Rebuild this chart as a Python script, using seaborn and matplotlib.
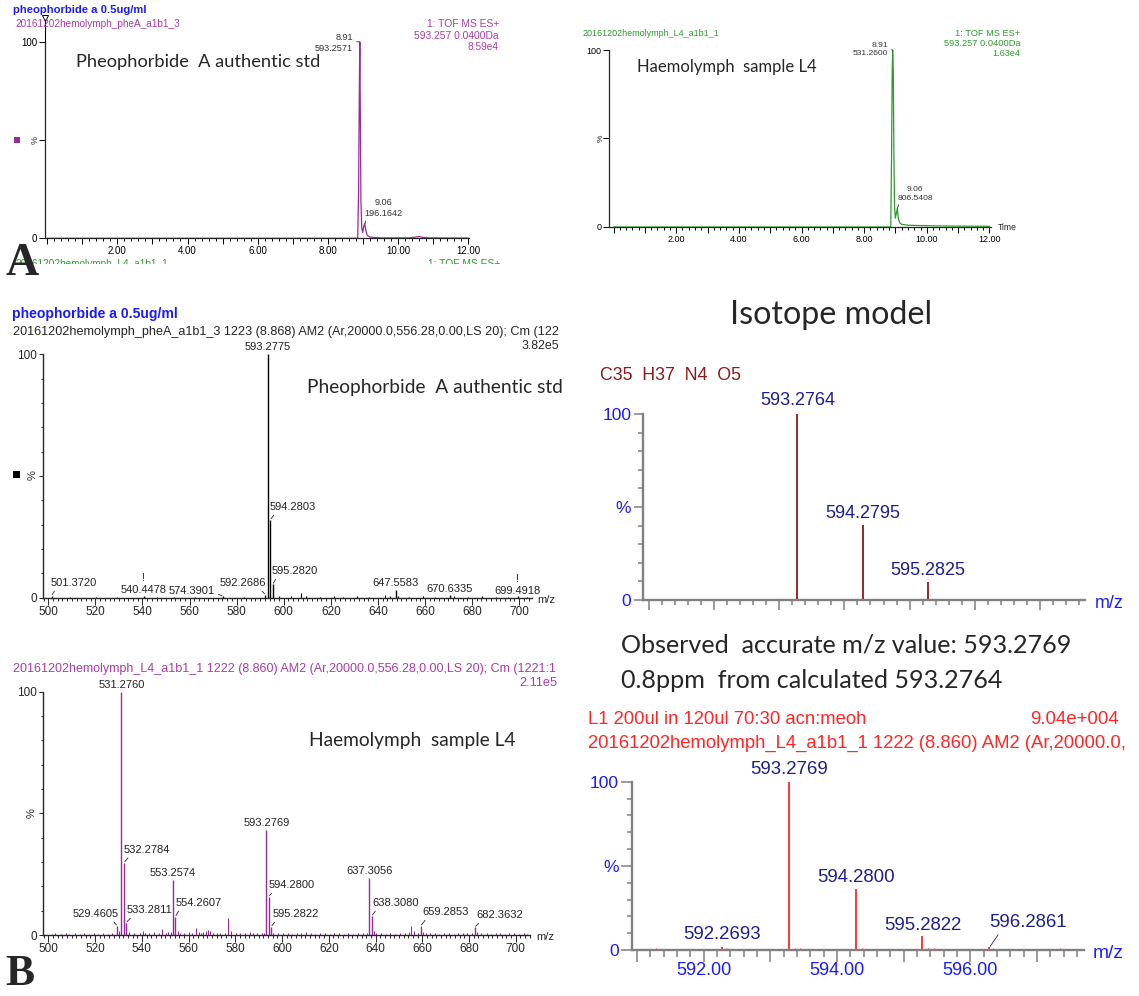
import matplotlib
matplotlib.use("Agg")
import numpy as np
import pandas as pd
import seaborn as sns
import matplotlib.pyplot as plt
from matplotlib.lines import Line2D
from matplotlib.patches import Rectangle
from matplotlib.ticker import MultipleLocator, FuncFormatter

# ---- A: extracted ion chromatograms (time in min, % of max) ----
std_time = [0.0, 8.85, 8.875, 8.895, 8.91, 8.925, 8.94, 8.965, 8.99, 9.02, 9.05, 9.08, 9.12, 9.2, 9.5,
            10.3, 10.5, 10.6, 10.7, 10.9, 12.0]
std_xic = [0.0, 0.0, 25, 75, 100, 60, 20, 5, 3, 6, 7.5, 4, 1.5, 0.6, 0.2, 0.2, 0.6, 0.9, 0.5, 0.2, 0.1]
l4_time = [0.0, 8.85, 8.875, 8.895, 8.91, 8.93, 8.95, 8.97, 8.995, 9.03, 9.06, 9.09, 9.13, 9.2, 9.4,
           9.8, 10.3, 11.0, 12.0]
l4_xic = [0.0, 0.0, 40, 85, 100, 88, 40, 12, 5, 8, 10.6, 5, 2.5, 1.5, 1.0, 0.8, 0.6, 0.5, 0.4]
std_apex_time = [8.91, 9.06]
std_apex_int = [100, 7.5]
std_apex_mz = ["593.2571", "196.1642"]
l4_apex_time = [8.91, 9.06]
l4_apex_int = [100, 10.6]
l4_apex_mz = ["531.2600", "806.5408"]

# ---- B: pheophorbide a standard spectrum ----
std_mz = [501.3720, 540.4478, 574.3901, 592.2686, 593.2775, 594.2803, 595.2820, 647.5583, 670.6335, 699.4918]
std_int = [0.8, 0.5, 0.6, 1.2, 100, 32.0, 5.5, 3.2, 1.0, 0.5]
std_flag = [False, True, False, False, False, False, False, False, False, True]
std_minor_mz = [509.3, 520.4, 529.2, 546.3, 553.3, 562.4, 583.3, 598.2, 603.3, 607.5, 609.3, 615.4, 621.3,
                625.4, 631.3, 636.4, 642.9, 645.2, 648.6, 653.4, 659.3, 664.4, 672.3, 678.4, 684.3, 690.4,
                695.3, 703.2]
std_minor_int = [0.3, 0.3, 0.4, 0.3, 0.4, 0.3, 0.4, 0.6, 0.5, 2.0, 0.6, 0.4, 0.5, 0.4, 0.5, 0.4, 1.0, 0.6,
                 0.8, 0.4, 0.5, 0.4, 0.8, 0.4, 0.5, 0.4, 0.4, 0.3]

# ---- B: haemolymph L4 spectrum ----
l4_mz = [529.4605, 531.2760, 532.2784, 533.2811, 553.2574, 554.2607, 593.2769, 594.2800, 595.2822,
         637.3056, 638.3080, 659.2853, 682.3632]
l4_int = [3.7, 100, 29.7, 5.1, 22.6, 7.5, 43.2, 15.8, 3.4, 23.3, 7.8, 3.7, 3.2]
l4_minor_mz = [501.5, 503.0, 505.2, 507.4, 509.0, 511.3, 513.6, 515.1, 517.5, 519.6, 521.2, 523.4, 525.5,
               527.3, 530.3, 534.3, 536.5, 539.1, 540.3, 541.2, 543.2, 545.3, 547.3, 548.8, 550.3, 551.2,
               552.3, 555.3, 556.4, 558.2, 560.3, 561.4, 563.2, 564.3, 565.4, 566.3, 567.6, 568.5, 569.3,
               570.4, 572.3, 573.3, 575.4, 577.0, 578.0, 580.3, 582.2, 584.3, 586.3, 587.4, 589.3, 591.3,
               592.3, 596.3, 598.2, 600.3, 602.4, 604.3, 606.4, 608.3, 610.3, 612.4, 614.2, 616.3, 618.5,
               620.3, 622.4, 624.3, 626.5, 628.3, 630.4, 632.3, 634.5, 636.3, 639.3, 640.4, 642.3, 644.5,
               646.3, 648.4, 650.3, 652.5, 654.2, 655.3, 656.3, 658.3, 660.3, 661.4, 663.3, 665.5, 667.3,
               669.4, 671.3, 673.5, 675.3, 677.4, 679.3, 681.3, 683.4, 685.3, 687.5, 689.3, 691.4, 693.3,
               695.5, 697.3, 699.4, 701.3, 703.4, 705.0]
l4_minor_int = [0.6, 0.8, 0.5, 0.9, 0.6, 0.7, 0.5, 0.8, 0.6, 0.9, 0.5, 0.7, 0.6, 0.8, 1.8, 1.2, 0.7, 0.9,
                1.5, 1.0, 0.8, 1.3, 1.0, 2.6, 1.0, 1.4, 1.2, 1.6, 1.0, 0.8, 1.1, 0.9, 3.0, 1.2, 0.9, 1.3,
                1.8, 2.0, 1.6, 1.0, 0.9, 0.7, 0.8, 6.8, 1.6, 0.8, 0.9, 0.7, 1.3, 0.8, 0.9, 0.8, 1.0, 0.9,
                0.8, 0.7, 0.9, 0.6, 0.8, 0.7, 1.2, 0.8, 0.6, 0.7, 0.8, 0.6, 0.7, 0.9, 0.6, 0.8, 0.6, 0.7,
                0.8, 0.9, 1.5, 0.9, 0.7, 0.6, 0.8, 0.6, 0.7, 0.8, 1.2, 3.7, 1.5, 0.9, 1.4, 0.9, 0.7, 0.8,
                0.6, 0.7, 0.8, 0.6, 0.9, 0.7, 0.8, 0.9, 1.3, 0.7, 0.8, 0.6, 0.7, 0.8, 0.6, 0.7, 0.8, 0.6,
                0.7, 0.5]

# ---- B: isotope model C35H37N4O5 ----
iso_mz = [593.2764, 594.2795, 595.2825]
iso_int = [100, 40.3, 9.5]

# ---- B: observed cluster, zoomed ----
obs_mz = [592.2693, 593.2769, 594.2800, 595.2822, 596.2861]
obs_int = [1.5, 100, 36.0, 8.3, 1.5]
obs_noise_mz = [591.12, 591.20, 591.28, 591.34, 591.42, 591.49, 591.57, 591.64, 591.72, 591.79, 591.87,
                591.94, 592.09, 592.34, 592.44, 592.54, 592.69, 592.77, 592.84, 592.94, 593.02, 593.37,
                593.44, 593.52, 593.67, 593.79, 593.94, 594.02, 594.09, 594.17, 594.37, 594.47, 594.69,
                594.79, 594.91, 595.04, 595.14, 595.36, 595.46, 595.54, 595.64, 595.74, 595.84, 595.94,
                596.04, 596.14, 596.34, 596.41, 596.49, 596.56, 596.69, 596.81, 596.94, 597.05, 597.15,
                597.25, 597.35, 597.45, 597.55]
obs_noise_int = [0.6, 0.7, 1.3, 0.6, 0.8, 0.6, 0.7, 0.6, 0.8, 0.6, 0.7, 0.6, 0.8, 0.9, 0.7, 0.6, 0.8,
                 0.6, 0.7, 0.6, 0.7, 1.4, 0.9, 0.7, 0.6, 0.7, 0.6, 0.8, 0.6, 0.7, 1.0, 0.7, 0.6, 0.7,
                 0.6, 0.8, 0.6, 1.2, 0.9, 0.7, 0.6, 0.7, 0.6, 0.7, 0.6, 0.8, 0.9, 0.7, 0.6, 0.7, 0.6,
                 0.7, 0.6, 0.8, 0.6, 0.7, 0.9, 0.6, 0.7]

BLUE, PURPLE, TRACE = "#1a1aff", "#a83ca8", "#9a2a9a"
GREEN, DARKRED, NAVY, RED, GRAY = "#2e9a2e", "#8b1a1a", "#1f1f8a", "#ff2626", "#808080"
CAL = ["Lato", "DejaVu Sans"]

sns.set_style("ticks")
plt.rcParams["font.family"] = ["Liberation Sans", "DejaVu Sans"]

W, H = 1139, 996
fig = plt.figure(figsize=(W / 100, H / 100), dpi=100)
renderer = fig.canvas.get_renderer()


def put(x, y, s, size=8, width=None, **kw):
    # text placed in pixel coordinates of the figure, optionally fitted to a width
    kw.setdefault("va", "center")
    t = fig.text(x / W, 1 - y / H, s, fontsize=size, **kw)
    if width:
        t.set_fontsize(size * width / t.get_window_extent(renderer).width)
    return t


def axes_at(left, right, top, bottom):
    ax = fig.add_axes([left / W, 1 - bottom / H, (right - left) / W, (bottom - top) / H])
    ax.patch.set_alpha(0)
    sns.despine(ax=ax)
    return ax


def tag(ax, mz, h, text, lay, size, color):
    dx, dy, ha, rel = lay
    kw = {}
    if rel is not None:
        kw["arrowprops"] = dict(arrowstyle="-", lw=0.6, color=color, shrinkA=0, shrinkB=1, relpos=rel)
    ax.annotate(text, (mz, h), xytext=(dx, dy), textcoords="offset pixels", ha=ha, va="bottom",
                fontsize=size, color=color, annotation_clip=False, linespacing=1.3, **kw)


def chrom_style(ax, xlim, size):
    ax.set_xlim(*xlim)
    ax.set_ylim(0, 100)
    ax.xaxis.set_major_locator(MultipleLocator(1))
    ax.xaxis.set_minor_locator(MultipleLocator(0.2))
    ax.xaxis.set_major_formatter(FuncFormatter(lambda v, p: f"{v:.2f}" if v > 0.5 and round(v) % 2 == 0 else ""))
    ax.set_yticks([0, 50, 100], ["0", "", "100"])
    ax.tick_params(which="both", direction="out", width=0.7, labelsize=size, pad=1.5, colors="black")
    ax.tick_params(which="major", length=4)
    ax.tick_params(which="minor", length=2.2)
    for s in ("left", "bottom"):
        ax.spines[s].set_linewidth(0.9)
    ax.set_xlabel("")
    ax.set_ylabel("")


def ms_style(ax, xlim):
    ax.set_xlim(*xlim)
    ax.set_ylim(0, 100)
    ax.set_yticks([0, 50, 100], ["0", "", "100"])
    ax.yaxis.set_minor_locator(MultipleLocator(10))
    ax.xaxis.set_major_locator(MultipleLocator(20))
    ax.xaxis.set_minor_locator(MultipleLocator(2))
    ax.xaxis.set_major_formatter(FuncFormatter(lambda v, p: f"{v:.0f}"))
    ax.tick_params(which="both", direction="out", width=0.7, labelsize=8.5, pad=1)
    ax.tick_params(axis="x", which="major", length=5)
    ax.tick_params(axis="x", which="minor", length=2.5)
    ax.tick_params(axis="y", which="major", length=3)
    ax.tick_params(axis="y", which="minor", length=1.8)
    for s in ("left", "bottom"):
        ax.spines[s].set_linewidth(1.0)


def model_style(ax, xlim, maj, mino, ylen, labelled):
    ax.set_xlim(*xlim)
    ax.set_ylim(0, 100)
    ax.set_yticks([0, 50, 100], ["0", "%", "100"])
    ax.yaxis.set_minor_locator(MultipleLocator(10))
    ax.xaxis.set_major_locator(MultipleLocator(1))
    ax.xaxis.set_minor_locator(MultipleLocator(0.2))
    if labelled:
        ax.xaxis.set_major_formatter(FuncFormatter(lambda v, p: f"{v:.2f}" if round(v) % 2 == 0 else ""))
    else:
        ax.set_xticklabels([])
    ax.tick_params(which="both", direction="out", width=1.1, color=GRAY, labelcolor=BLUE)
    ax.tick_params(axis="y", which="major", length=ylen, labelsize=12.5, pad=1.6)
    ax.tick_params(axis="y", which="minor", length=3.8)
    ax.tick_params(axis="x", which="major", length=maj, labelsize=13, pad=0.5)
    ax.tick_params(axis="x", which="minor", length=mino)
    for s in ("left", "bottom"):
        ax.spines[s].set_linewidth(1.7)
        ax.spines[s].set_color(GRAY)


# ================= A, left: standard XIC =================
ax = axes_at(45, 469, 41.7, 238.3)
sns.lineplot(x=std_time, y=std_xic, ax=ax, color=TRACE, lw=0.9, zorder=3)
chrom_style(ax, (-0.06, 12.02), 7)
for t, h, m, lay in zip(std_apex_time, std_apex_int, std_apex_mz,
                        [(-6.6, -1.3, "right", (1, 0.55)), (18.3, 6, "center", (0.05, 0))]):
    dx, dy, ha, rel = lay
    ax.annotate(f"{t:.2f}\n{m}", (t, h), xytext=(dx, dy), textcoords="offset pixels", ha=ha,
                va="center" if ha == "right" else "bottom", fontsize=6.6, color="#333333",
                linespacing=1.25, annotation_clip=False,
                arrowprops=dict(arrowstyle="-", lw=0.6, color="#333333", shrinkA=0, shrinkB=0, relpos=rel))
put(35, 140, "%", size=6.5, rotation=90, ha="center")
fig.add_artist(Rectangle((14 / W, 1 - 142.7 / H), 5.5 / W, 5.5 / H, transform=fig.transFigure,
                         color=TRACE, lw=0))
fig.add_artist(Line2D([45 / W, 45 / W], [1 - 21 / H, 1 - 42 / H], transform=fig.transFigure,
                      color="black", lw=0.8))
fig.add_artist(Line2D([45 / W], [1 - 18.5 / H], transform=fig.transFigure, marker="v", ms=5,
                      mfc="none", mec="black", mew=0.7))
put(13.3, 10, "pheophorbide a 0.5ug/ml", width=134.4, weight="bold", color=BLUE)
put(15, 24, "20161202hemolymph_pheA_a1b1_3", width=166, color=PURPLE)
put(499, 24, "1: TOF MS ES+", width=72, color=PURPLE, ha="right")
put(499, 36, "593.257 0.0400Da", width=84, color=PURPLE, ha="right")
put(499, 47, "8.59e4", width=31, color=PURPLE, ha="right")
put(76, 61.7, "Pheophorbide  A authentic std", width=245, family=CAL)

# cut-off header of the next trace and panel letter
put(15, 264, "20161202hemolymph_L4_a1b1_1", width=152, color=GREEN)
put(500, 264, "1: TOF MS ES+", width=72, color=GREEN, ha="right")
fig.add_artist(Rectangle((0, 1 - 282 / H), 560 / W, 17.5 / H, transform=fig.transFigure,
                         color="white", lw=0, zorder=4))
put(5, 275, "A", width=33, family="Liberation Serif", weight="bold", va="baseline", zorder=5)

# ================= A, right: haemolymph XIC =================
ax = axes_at(609.2, 991, 50, 227)
sns.lineplot(x=l4_time, y=l4_xic, ax=ax, color=GREEN, lw=0.9, zorder=3)
chrom_style(ax, (-0.14, 12.05), 6.5)
for t, h, m, lay in zip(l4_apex_time, l4_apex_int, l4_apex_mz,
                        [(-4.4, 0.5, "right", (1, 0.55)), (17.9, 6.7, "center", (0.07, 0))]):
    dx, dy, ha, rel = lay
    ax.annotate(f"{t:.2f}\n{m}", (t, h), xytext=(dx, dy), textcoords="offset pixels", ha=ha,
                va="center" if ha == "right" else "bottom", fontsize=6.1, color="#333333",
                linespacing=1.25, annotation_clip=False,
                arrowprops=dict(arrowstyle="-", lw=0.6, color="#333333", shrinkA=0, shrinkB=0, relpos=rel))
put(601, 138.3, "%", size=6, rotation=90, ha="center")
put(582.7, 33, "20161202hemolymph_L4_a1b1_1", width=138, color=GREEN)
put(1020, 33, "1: TOF MS ES+", width=65, color=GREEN, ha="right")
put(1020, 43.5, "593.257 0.0400Da", width=75.5, color=GREEN, ha="right")
put(1020, 54, "1.63e4", width=28, color=GREEN, ha="right")
put(637, 66.7, "Haemolymph  sample L4", width=180, family=CAL)
put(998, 228, "Time", width=19)

# ================= B, standard spectrum =================
ax = axes_at(42.8, 531.8, 354.3, 597.7)
ax.vlines(std_minor_mz, 0, std_minor_int, color="black", lw=0.8)
ax.vlines(std_mz, 0, std_int, color="black", lw=1.0)
ms_style(ax, (497.66, 705.4))
std_lay = [(-0.7, 7.8, "left", (0.12, 0)), (0, 1, "center", None), (-8.5, 0, "right", (1, 0.3)),
           (0.5, 6.8, "right", (0.85, 0)), (0, 2, "center", None), (-1, 7.8, "left", (0.15, 0)),
           (-0.6, 8.3, "left", (0.12, 0)), (0, 2, "center", None), (0, 1, "center", None),
           (0, 0, "center", None)]
for m, h, f, lay in zip(std_mz, std_int, std_flag, std_lay):
    tag(ax, m, h, ("!\n" if f else "") + f"{m:.4f}", lay, 8, "#222222")
put(32.7, 475, "%", size=8, rotation=90, ha="center")
fig.add_artist(Rectangle((12.8 / W, 1 - 478.5 / H), 7 / W, 7 / H, transform=fig.transFigure,
                         color="black", lw=0))
put(11.6, 314, "pheophorbide a 0.5ug/ml", width=167, weight="bold", color=BLUE)
put(12.7, 331.7, "20161202hemolymph_pheA_a1b1_3 1223 (8.868) AM2 (Ar,20000.0,556.28,0.00,LS 20); Cm (122",
    width=547)
put(559, 346, "3.82e5", width=38, ha="right")
put(306.7, 388, "Pheophorbide  A authentic std", width=258, family=CAL)
put(537, 600, "m/z", width=18)

# ================= B, isotope model =================
ax = axes_at(642.6, 1084.7, 414, 600)
ax.vlines(iso_mz, 0, iso_int, color=DARKRED, lw=1.3)
model_style(ax, (590.90, 597.69), 7.2, 3.6, 6.5, False)
for m, h, lay in zip(iso_mz, iso_int, [(0, 5, "center", None), (0, 3.5, "center", None), (0, 3, "center", None)]):
    tag(ax, m, h, f"{m:.4f}", lay, 13, NAVY)
put(831.4, 315, "Isotope model", width=203, family=CAL, ha="center")
put(599.8, 375, "C35  H37  N4  O5", width=141, color=DARKRED)
put(1094.5, 603.3, "m/z", width=29, color=BLUE)
put(620.8, 645, "Observed  accurate m/z value: 593.2769", width=453.7, family=CAL)
put(620.8, 680, "0.8ppm  from calculated 593.2764", width=385, family=CAL)

# ================= B, haemolymph spectrum =================
ax = axes_at(42.8, 530, 691.7, 935)
ax.vlines(l4_minor_mz, 0, l4_minor_int, color=TRACE, lw=0.8)
ax.vlines(l4_mz, 0, l4_int, color=TRACE, lw=1.0)
ms_style(ax, (497.6, 706.1))
l4_lay = [(1, 7, "right", (0.85, 0)), (0, 2, "center", None), (0, 8, "left", (0.15, 0)),
          (0.5, 7.6, "left", (0.15, 0)), (0, 2, "center", None), (0, 9, "left", (0.12, 0)),
          (0, 1.5, "center", None), (0, 6.6, "left", (0.12, 0)), (1.4, 7.7, "left", (0.1, 0)),
          (0, 2, "center", None), (0.7, 8, "left", (0.12, 0)), (1.5, 9, "left", (0.12, 0)),
          (2, 7, "left", (0.12, 0))]
for m, h, lay in zip(l4_mz, l4_int, l4_lay):
    tag(ax, m, h, f"{m:.4f}", lay, 8, "#222222")
put(32, 813.3, "%", size=8, rotation=90, ha="center")
put(12.7, 669.3, "20161202hemolymph_L4_a1b1_1 1222 (8.860) AM2 (Ar,20000.0,556.28,0.00,LS 20); Cm (1221:1",
    width=546, color=PURPLE)
put(558, 683.3, "2.11e5", width=38, color=PURPLE, ha="right")
put(309, 740.7, "Haemolymph  sample L4", width=208, family=CAL)
put(536.5, 936.7, "m/z", width=18)
put(5.4, 994, "B", width=29, family="Liberation Serif", weight="bold", va="bottom")

# ================= B, observed cluster =================
ax = axes_at(632.4, 1083.6, 781.7, 950)
ax.vlines(obs_noise_mz, 0, obs_noise_int, color=RED, lw=0.8)
ax.vlines(obs_mz, 0, obs_int, color=RED, lw=1.3)
model_style(ax, (590.93, 597.70), 8.4, 4.8, 8, True)
obs_lay = [(0, 4, "center", None), (0, 4, "center", None), (0, 3, "center", None),
           (0, 2.5, "center", None), (-0.6, 16, "left", (0.15, 0))]
for m, h, lay in zip(obs_mz, obs_int, obs_lay):
    tag(ax, m, h, f"{m:.4f}", lay, 13.4, NAVY)
put(588, 720, "L1 200ul in 120ul 70:30 acn:meoh", width=280, color=RED)
put(1118.8, 720, "9.04e+004", width=88, color=RED, ha="right")
put(588, 743.3, "20161202hemolymph_L4_a1b1_1 1222 (8.860) AM2 (Ar,20000.0,", width=541, color=RED)
put(1092.7, 953.3, "m/z", width=31, color=BLUE)

fig.savefig("out.png", dpi=100)
